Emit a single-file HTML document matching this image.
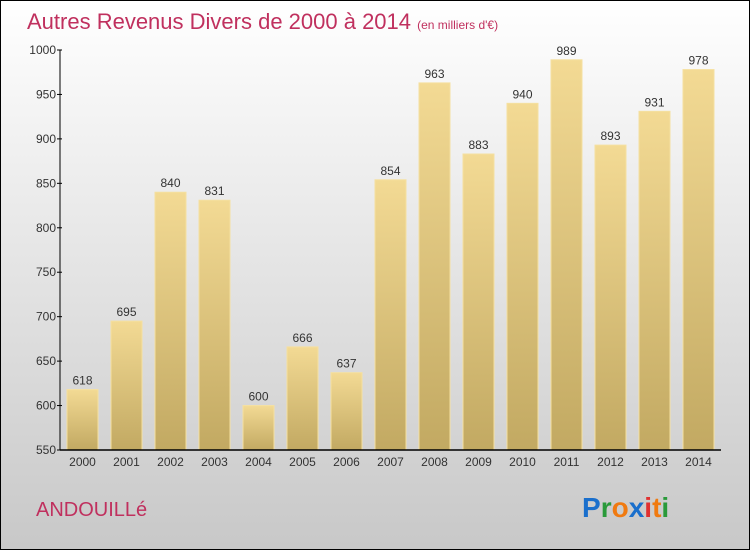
<!DOCTYPE html>
<html><head><meta charset="utf-8"><style>
body{margin:0;width:750px;height:550px;overflow:hidden;font-family:"Liberation Sans",sans-serif}
svg{display:block}
</style></head><body>
<svg width="750" height="550">
<defs>
<linearGradient id="bg" x1="0" y1="0" x2="0" y2="1"><stop offset="0" stop-color="#ffffff"/><stop offset="1" stop-color="#c8c8c8"/></linearGradient>
<linearGradient id="bar" x1="0" y1="0" x2="0" y2="1"><stop offset="0" stop-color="#f3da94"/><stop offset="1" stop-color="#c2a962"/></linearGradient>
</defs>
<rect x="0.5" y="0.5" width="749" height="549" fill="url(#bg)" stroke="#000"/>
<text x="27" y="29" font-size="22" fill="#c0305e">Autres Revenus Divers de 2000 à 2014 <tspan font-size="12">(en milliers d'€)</tspan></text>
<text x="36" y="516" font-size="20" fill="#c0305e">ANDOUILLé</text>
<text x="582" y="517" font-size="28" font-weight="bold"><tspan fill="#1a6fcc">P</tspan><tspan fill="#2a9a3a">r</tspan><tspan fill="#f07a10">o</tspan><tspan fill="#1a6fcc">x</tspan><tspan fill="#e03030">i</tspan><tspan fill="#f07a10">t</tspan><tspan fill="#2a9a3a">i</tspan></text>
<g id="plot"></g>
</svg>
<script>
const years=["2000","2001","2002","2003","2004","2005","2006","2007","2008","2009","2010","2011","2012","2013","2014"];
const values=[618,695,840,831,600,666,637,854,963,883,940,989,893,931,978];
const ticks=[550,600,650,700,750,800,850,900,950,1000];
const NS="http://www.w3.org/2000/svg";
const g=document.getElementById('plot');
const y=v=>450-(v-550)*400/450;
const x=i=>82.5+i*44;
function mk(t,a,txt){const e=document.createElementNS(NS,t);for(const k in a)e.setAttribute(k,a[k]);if(txt!==undefined)e.textContent=txt;g.appendChild(e);return e;}
values.forEach((v,i)=>{
 const r=mk('rect',{x:x(i)-15.5,y:y(v),width:31,height:450-y(v),fill:'url(#bar)',stroke:'#f5e0a0','stroke-width':1});
 
 
 const l=mk('text',{x:x(i),y:y(v)-5,'font-size':12,fill:'#333','text-anchor':'middle'},String(v));
 
 
 const t=mk('text',{x:x(i),y:466,'font-size':12,fill:'#333','text-anchor':'middle'},years[i]);
 
 
});
ticks.forEach(v=>{
 mk('line',{x1:57,x2:62,y1:y(v),y2:y(v),stroke:'#000'});
 const t=mk('text',{x:56,y:y(v)+4,'font-size':12,fill:'#333','text-anchor':'end'},String(v));
 
 
});
const ya=mk('line',{x1:60,x2:60,y1:y(1000),y2:450,stroke:'#000'});


const xa=mk('line',{x1:60,x2:721,y1:450,y2:450,stroke:'#000','stroke-width':1.5});


</script>
</body></html>
